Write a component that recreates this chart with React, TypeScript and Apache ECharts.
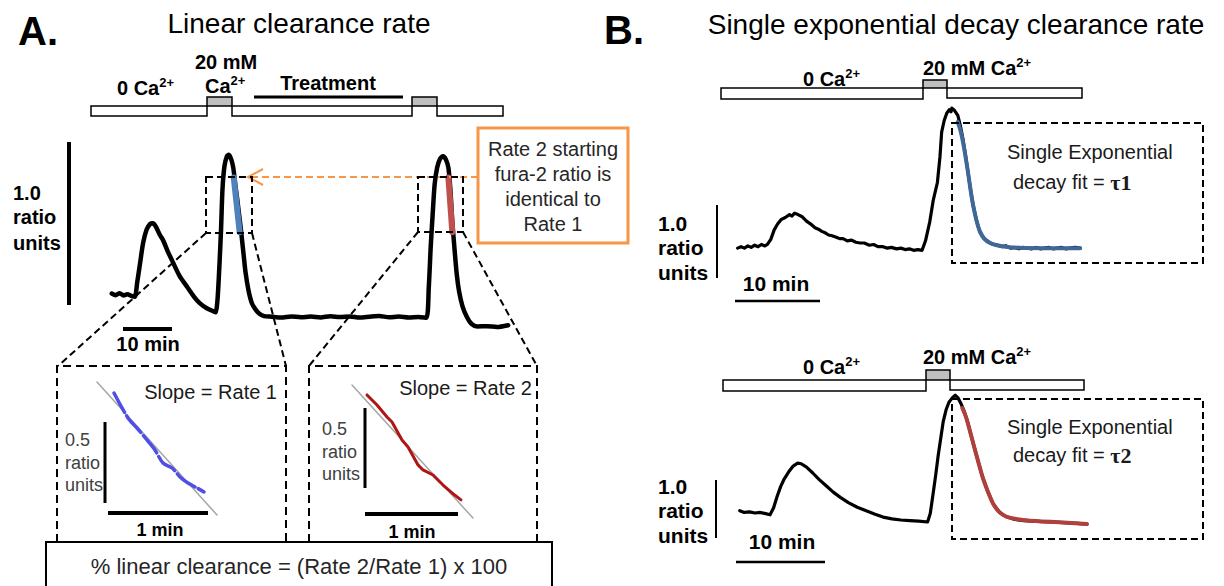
import React, { useEffect, useRef } from 'react';
import * as echarts from 'echarts';

// ---------- data (time in min, fura-2 ratio) ----------
const traceA: number[][] = [
  [2.4, 0.26], [3.2, 0.25], [4.0, 0.262], [4.8, 0.248], [5.6, 0.255], [6.4, 0.245], [7.1, 0.24],
  [7.6, 0.33], [8.2, 0.45], [8.8, 0.57], [9.5, 0.65], [10.2, 0.685], [10.8, 0.69], [11.4, 0.67],
  [12.2, 0.62], [12.9, 0.585], [13.8, 0.52], [14.9, 0.45], [16.2, 0.37], [17.8, 0.3], [19.2, 0.24],
  [20.4, 0.2], [21.8, 0.17], [23.2, 0.15], [23.6, 0.145],
  [24.0, 0.23], [24.4, 0.45], [24.7, 0.65], [25.0, 0.9], [25.4, 1.04], [25.9, 1.1], [26.3, 1.11],
  [26.8, 1.08], [27.2, 1.03], [27.6, 0.93], [28.0, 0.84], [28.4, 0.74], [28.8, 0.64], [29.3, 0.5],
  [29.7, 0.39], [30.3, 0.28], [31.0, 0.2], [31.8, 0.16], [32.6, 0.135], [33.5, 0.122],
  [35, 0.118], [37, 0.113], [39, 0.12], [41, 0.115], [43, 0.119], [45, 0.114], [47, 0.121],
  [49, 0.116], [51, 0.12], [53, 0.113], [55, 0.118], [57, 0.122], [59, 0.115], [61, 0.119],
  [63, 0.113], [65, 0.117], [66.6, 0.112],
  [67.1, 0.3], [67.5, 0.55], [67.9, 0.75], [68.3, 0.93], [68.8, 1.03], [69.4, 1.085], [70.0, 1.1],
  [70.6, 1.08], [71.1, 1.03], [71.5, 0.9], [71.9, 0.7], [72.3, 0.55], [72.8, 0.38], [73.3, 0.27],
  [74.0, 0.18], [74.9, 0.115], [75.8, 0.075], [77, 0.058], [79, 0.06], [81, 0.055], [83.3, 0.066],
];
const rate1Segment: number[][] = [[27.3, 0.97], [28.5, 0.635]];
const rate2Segment: number[][] = [[71.1, 0.97], [71.9, 0.635]];

const inset1Fit: number[][] = [[0.07, 0.926], [1.27, 0.105]];
const inset1Trace: number[][] = [
  [0.24, 0.858], [0.38, 0.704], [0.47, 0.642], [0.57, 0.568], [0.65, 0.506], [0.73, 0.426],
  [0.82, 0.395], [0.9, 0.34], [0.98, 0.302], [1.07, 0.272], [1.14, 0.247],
];
const inset2Fit: number[][] = [[0.12, 0.907], [1.33, 0.086]];
const inset2Trace: number[][] = [
  [0.27, 0.846], [0.37, 0.784], [0.47, 0.71], [0.52, 0.679], [0.62, 0.568], [0.68, 0.525],
  [0.78, 0.414], [0.83, 0.383], [0.93, 0.352], [1.03, 0.29], [1.12, 0.241], [1.21, 0.198],
];

const traceB1: number[][] = [
  [0.9, 0.3], [1.3, 0.32], [1.7, 0.3], [2.1, 0.33], [2.5, 0.31], [2.9, 0.34], [3.3, 0.32], [3.7, 0.35],
  [4.1, 0.33], [4.4, 0.35], [4.8, 0.42], [5.2, 0.55], [5.6, 0.63], [6.0, 0.69], [6.5, 0.72], [7.0, 0.76],
  [7.3, 0.74], [7.6, 0.78], [8.0, 0.76], [8.5, 0.73], [9.0, 0.67], [9.5, 0.63], [10.0, 0.58],
  [10.4, 0.56], [10.8, 0.53], [11.2, 0.51], [11.6, 0.48], [12.0, 0.47], [12.5, 0.45], [12.9, 0.43],
  [13.3, 0.43], [13.8, 0.4], [14.3, 0.41], [14.8, 0.38], [15.3, 0.37], [15.8, 0.37], [16.4, 0.34],
  [16.9, 0.35], [17.4, 0.32], [18.0, 0.32], [18.5, 0.3], [19.0, 0.31], [19.6, 0.29], [20.1, 0.3],
  [20.6, 0.28], [21.1, 0.29], [21.6, 0.27], [22.1, 0.28], [22.6, 0.27], [23.0, 0.4],
  [23.5, 0.66], [23.9, 0.95], [24.4, 1.2], [24.7, 1.55], [24.9, 1.89], [25.2, 2.05], [25.5, 2.15],
  [25.8, 2.2], [26.0, 2.17], [26.1, 2.22], [26.4, 2.19], [26.8, 2.12], [27.1, 1.98], [27.4, 1.8], [27.7, 1.58],
  [28.0, 1.34], [28.3, 1.1], [28.6, 0.89], [29.0, 0.68], [29.4, 0.52], [29.9, 0.43], [30.6, 0.37],
  [31.0, 0.35], [31.5, 0.34], [32.0, 0.32], [32.5, 0.33], [33.0, 0.3], [33.5, 0.31], [34, 0.29],
  [34.5, 0.31], [35, 0.3], [35.5, 0.29], [36, 0.31], [36.5, 0.29], [37, 0.3], [37.5, 0.31], [38, 0.29],
  [38.5, 0.3], [39, 0.31], [39.5, 0.29], [40, 0.3], [40.6, 0.31], [41.2, 0.3],
];
const fitB1: number[][] = [
  [26.8, 2.03], [27.1, 1.92], [27.4, 1.76], [27.7, 1.56], [28.0, 1.34], [28.3, 1.1], [28.6, 0.89],
  [29.0, 0.68], [29.4, 0.53], [29.9, 0.43], [30.6, 0.37], [31.4, 0.34], [32.4, 0.32], [34, 0.305],
  [37, 0.3], [41.2, 0.3],
];
const traceB2: number[][] = [
  [1.1, 0.85], [1.6, 0.82], [2.2, 0.83], [2.8, 0.81], [3.4, 0.82], [4.0, 0.8], [4.5, 0.78], [4.9, 0.9],
  [5.3, 1.1], [5.7, 1.27], [6.1, 1.4], [6.6, 1.52], [7.1, 1.62], [7.6, 1.67], [8.0, 1.66], [8.6, 1.6],
  [9.3, 1.5], [10.0, 1.39], [10.8, 1.28], [11.6, 1.17], [12.4, 1.08], [13.3, 0.99], [14.3, 0.91],
  [15.3, 0.85], [16.3, 0.79], [17.2, 0.74], [18.2, 0.71], [19.2, 0.69], [20.2, 0.68], [21.2, 0.67],
  [22.2, 0.655], [22.5, 0.8], [22.8, 1.12], [23.1, 1.45], [23.4, 1.81], [23.7, 2.12], [23.95, 2.38],
  [24.3, 2.6], [24.6, 2.72], [25.0, 2.8], [25.3, 2.84], [25.6, 2.8], [26.0, 2.68], [26.3, 2.57],
  [26.7, 2.38], [27.0, 2.2], [27.4, 1.97], [27.9, 1.69], [28.4, 1.42], [29.0, 1.17], [29.6, 0.96],
  [30.3, 0.82], [31.0, 0.75], [32.0, 0.7], [33.0, 0.68], [34.5, 0.665], [36, 0.655], [37.5, 0.645],
  [39, 0.63], [40.1, 0.62],
];
const fitB2: number[][] = [
  [26.1, 2.62], [26.5, 2.47], [27.0, 2.2], [27.4, 1.97], [27.9, 1.69], [28.4, 1.42], [29.0, 1.17],
  [29.6, 0.96], [30.3, 0.82], [31.0, 0.75], [32.0, 0.71], [33.5, 0.68], [35, 0.665], [37, 0.65],
  [40.1, 0.62],
];

const FONT = '"Liberation Sans", Arial, Helvetica, sans-serif';

function txt(x: number, y: number, text: string, size: number, weight = 'normal', align = 'left', fill = '#000') {
  return {
    type: 'text', x, y, silent: true, z: 10,
    style: { text, fontSize: size, fontWeight: weight, fontFamily: FONT, fill, align, verticalAlign: 'middle', textAlign: align, textVerticalAlign: 'middle' },
  };
}
function supTxt(x: number, y: number, base: string, sup: string, size: number) {
  const ss = Math.round(size * 0.65);
  return {
    type: 'text', x, y, silent: true, z: 10,
    style: {
      text: `{a|${base}}{s|${sup}}`,
      rich: {
        a: { fontSize: size, fontWeight: 'bold', fontFamily: FONT, fill: '#000', lineHeight: size + 4 },
        s: { fontSize: ss, fontWeight: 'bold', fontFamily: FONT, fill: '#000', verticalAlign: 'top', lineHeight: ss + 1 },
      },
      align: 'left', verticalAlign: 'middle',
    },
  };
}
function ln(x1: number, y1: number, x2: number, y2: number, w = 2, color = '#000', dash?: number[]) {
  return { type: 'line', silent: true, z: 5, shape: { x1, y1, x2, y2 }, style: { stroke: color, lineWidth: w, lineDash: dash } };
}
function pl(points: number[][], w = 2, color = '#000', dash?: number[]) {
  return { type: 'polyline', silent: true, z: 5, shape: { points }, style: { stroke: color, lineWidth: w, lineDash: dash, fill: null } };
}
function rc(x: number, y: number, w: number, h: number, fill: string, stroke: string, lw = 1.5, dash?: number[], z = 5) {
  return { type: 'rect', silent: true, z, shape: { x, y, width: w, height: h }, style: { fill, stroke, lineWidth: lw, lineDash: dash } };
}

const D = [7, 4];
const D2 = [8, 5];

export default function App() {
  const ref = useRef<HTMLDivElement>(null);
  useEffect(() => {
    document.body.style.margin = '0';
    const chart = echarts.init(ref.current!, undefined, { renderer: 'svg' });
    const grids = [
      { left: 100, top: 140, width: 441, height: 196 },
      { left: 90, top: 370, width: 150, height: 162 },
      { left: 340, top: 370, width: 150, height: 162 },
      { left: 730, top: 95, width: 476, height: 175 },
      { left: 730, top: 386, width: 445, height: 174 },
    ];
    const xr = [[0, 90], [0, 1.5], [0, 1.5], [0, 56], [0, 50]];
    const yr = [[0, 1.2], [0, 1], [0, 1], [0, 2.4], [0, 3]];
    const line = (g: number, data: number[][], color: string, width: number, extra: any = {}) => ({
      type: 'line', xAxisIndex: g, yAxisIndex: g, data, showSymbol: false, symbol: 'none', silent: true,
      lineStyle: { color, width, cap: 'round', join: 'round', ...(extra.lineStyle || {}) },
      smooth: extra.smooth ?? false, z: extra.z ?? 3,
    });
    const tauRich = (label: string) => ({
      text: `{n|decay fit = }{t|${label}}`,
      rich: {
        n: { fontSize: 20, fontFamily: FONT, fill: '#1a1a1a' },
        t: { fontSize: 22, fontWeight: 'bold', fontFamily: '"Liberation Serif", "DejaVu Serif", serif', fill: '#1a1a1a' },
      },
      align: 'left', verticalAlign: 'middle',
    });
    const graphic: any[] = [
      // panel labels & titles
      txt(18, 31, 'A.', 40, 'bold'),
      txt(299, 23, 'Linear clearance rate', 28, 'normal', 'center'),
      txt(604, 30, 'B.', 40, 'bold'),
      txt(956, 24, 'Single exponential decay clearance rate', 28, 'normal', 'center'),
      // A solution bar
      rc(91, 106, 116, 10, '#fff', '#000'),
      rc(207, 97, 25, 9, '#bfbfbf', '#000'),
      rc(232, 106, 180, 10, '#fff', '#000'),
      rc(412, 97, 25, 9, '#bfbfbf', '#000'),
      rc(437, 106, 66, 10, '#fff', '#000'),
      ln(254, 97, 403, 97, 3),
      supTxt(117, 88, '0 Ca', '2+', 20),
      txt(226, 62, '20 mM', 20, 'bold', 'center'),
      supTxt(205, 86, 'Ca', '2+', 20),
      txt(328, 83, 'Treatment', 20, 'bold', 'center'),
      // A scale bars
      ln(69, 142, 69, 305, 4),
      txt(13, 193, '1.0', 20, 'bold'),
      txt(13, 217, 'ratio', 20, 'bold'),
      txt(13, 243, 'units', 20, 'bold'),
      ln(123, 329, 172, 329, 4),
      txt(148, 344, '10 min', 20, 'bold', 'center'),
      // dashed zoom rectangles
      rc(206, 177, 46, 56, 'none', '#000', 2, D, 6),
      rc(418, 177, 45, 55, 'none', '#000', 2, D, 6),
      ln(206, 233, 58, 366, 2, '#000', D),
      ln(252, 233, 286, 366, 2, '#000', D),
      ln(418, 232, 309, 366, 2, '#000', D),
      ln(463, 232, 537, 366, 2, '#000', D),
      pl([[57, 542], [57, 366], [286, 366], [286, 542]], 2, '#000', D2),
      pl([[309, 542], [309, 366], [537, 366], [537, 542]], 2, '#000', D2),
      // orange call-out
      ln(478, 177, 249, 177, 2, '#f79646', D),
      pl([[263, 169], [248, 177], [263, 185]], 2, '#f79646'),
      rc(478, 128, 150, 115, '#fff', '#f79646', 3),
      txt(553, 149, 'Rate 2 starting', 20, 'normal', 'center', '#262626'),
      txt(553, 174, 'fura-2 ratio is', 20, 'normal', 'center', '#262626'),
      txt(553, 199, 'identical to', 20, 'normal', 'center', '#262626'),
      txt(553, 224, 'Rate 1', 20, 'normal', 'center', '#262626'),
      // inset 1
      txt(277, 392, 'Slope = Rate 1', 20, 'normal', 'right', '#1a1a1a'),
      ln(105, 422, 105, 503, 3),
      txt(65, 440, '0.5', 18, 'normal', 'left', '#404040'),
      txt(65, 463, 'ratio', 18, 'normal', 'left', '#404040'),
      txt(65, 485, 'units', 18, 'normal', 'left', '#404040'),
      ln(108, 513, 208, 513, 4),
      txt(160, 530, '1 min', 18, 'bold', 'center'),
      // inset 2
      txt(532, 388, 'Slope = Rate 2', 20, 'normal', 'right', '#1a1a1a'),
      ln(365, 408, 365, 488, 3),
      txt(322, 429, '0.5', 18, 'normal', 'left', '#404040'),
      txt(322, 452, 'ratio', 18, 'normal', 'left', '#404040'),
      txt(322, 474, 'units', 18, 'normal', 'left', '#404040'),
      ln(365, 514, 458, 514, 4),
      txt(412, 532, '1 min', 18, 'bold', 'center'),
      // formula box
      rc(46, 542, 506, 60, '#fff', '#000', 2, undefined, 8),
      txt(299, 566, '% linear clearance = (Rate 2/Rate 1) x 100', 22, 'normal', 'center', '#262626'),
      // B1 bar
      rc(721, 88, 202, 11, '#fff', '#000'),
      rc(923, 80, 24, 8, '#bfbfbf', '#000'),
      rc(947, 88, 135, 10, '#fff', '#000'),
      supTxt(803, 79, '0 Ca', '2+', 20),
      supTxt(923, 68, '20 mM Ca', '2+', 20),
      ln(717, 205, 717, 278, 2),
      txt(658, 223, '1.0', 21, 'bold'),
      txt(658, 247, 'ratio', 21, 'bold'),
      txt(658, 272, 'units', 21, 'bold'),
      ln(735, 301, 820, 301, 2.5),
      txt(776, 283, '10 min', 21, 'bold', 'center'),
      rc(952, 123, 251, 140, 'none', '#000', 2, D, 6),
      txt(1007, 152, 'Single Exponential', 20, 'normal', 'left', '#1a1a1a'),
      { type: 'text', x: 1013, y: 182, silent: true, z: 10, style: tauRich('τ1') },
      // B2 bar
      rc(723, 380, 203, 11, '#fff', '#000'),
      rc(926, 370, 24, 10, '#bfbfbf', '#000'),
      rc(950, 380, 134, 10, '#fff', '#000'),
      supTxt(803, 367, '0 Ca', '2+', 20),
      supTxt(923, 357, '20 mM Ca', '2+', 20),
      ln(716, 480, 716, 538, 2),
      txt(658, 486, '1.0', 21, 'bold'),
      txt(658, 510, 'ratio', 21, 'bold'),
      txt(658, 535, 'units', 21, 'bold'),
      ln(736, 562, 825, 562, 2.5),
      txt(782, 541, '10 min', 21, 'bold', 'center'),
      rc(952, 399, 251, 140, 'none', '#000', 2, D, 6),
      txt(1007, 427, 'Single Exponential', 20, 'normal', 'left', '#1a1a1a'),
      { type: 'text', x: 1013, y: 455, silent: true, z: 10, style: tauRich('τ2') },
    ];
    chart.setOption({
      animation: false,
      backgroundColor: '#fff',
      grid: grids,
      xAxis: grids.map((_, i) => ({ type: 'value', gridIndex: i, min: xr[i][0], max: xr[i][1], show: false })),
      yAxis: grids.map((_, i) => ({ type: 'value', gridIndex: i, min: yr[i][0], max: yr[i][1], show: false })),
      series: [
        line(0, traceA, '#000', 4.5, { smooth: 0.25 }),
        line(0, rate1Segment, '#4f81bd', 6, { z: 4 }),
        line(0, rate2Segment, '#c0504d', 6, { z: 4 }),
        line(1, inset1Fit, '#a6a6a6', 1.5),
        line(1, inset1Trace, '#4f4fe8', 3.5, { smooth: 0.3, lineStyle: { type: [22, 4] }, z: 4 }),
        line(2, inset2Fit, '#a6a6a6', 1.5),
        line(2, inset2Trace, '#b01515', 3, { z: 4 }),
        line(3, traceB1, '#000', 3.2),
        line(3, fitB1, '#3f6897', 4, { smooth: 0.3, z: 4 }),
        line(4, traceB2, '#000', 3.2),
        line(4, fitB2, '#b0403c', 4, { smooth: 0.3, z: 4 }),
      ],
      graphic,
    });
    return () => chart.dispose();
  }, []);
  return <div ref={ref} style={{ position: 'fixed', left: 0, top: 0, width: 1224, height: 586, background: '#fff' }} />;
}
